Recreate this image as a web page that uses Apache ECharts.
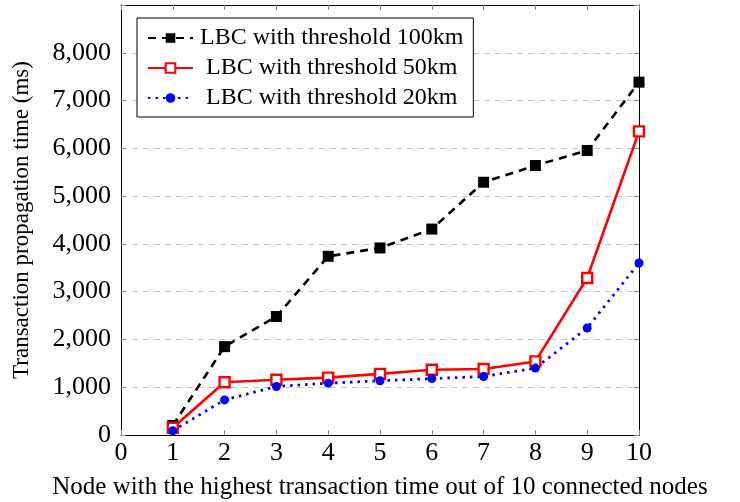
<!DOCTYPE html>
<html>
<head>
<meta charset="utf-8">
<script src="https://cdn.jsdelivr.net/npm/echarts@6/dist/echarts.min.js"></script>
<style>
  html, body { margin: 0; padding: 0; background: #fff; }
  #chart { width: 740px; height: 502px; }
</style>
</head>
<body>
<div id="chart"></div>
<script>
const nodes = [1, 2, 3, 4, 5, 6, 7, 8, 9, 10];
const seriesNames = ['LBC with threshold 100km', 'LBC with threshold 50km', 'LBC with threshold 20km'];
const thr100 = [200, 1850, 2480, 3740, 3915, 4310, 5290, 5640, 5955, 7385];
const thr50 = [150, 1105, 1155, 1200, 1280, 1365, 1380, 1540, 3285, 6355];
const thr20 = [90, 735, 1015, 1085, 1135, 1180, 1225, 1400, 2240, 3600];
const xTicks = [0, 1, 2, 3, 4, 5, 6, 7, 8, 9, 10];
const yTicks = [0, 1000, 2000, 3000, 4000, 5000, 6000, 7000, 8000];

const FONT = 'Liberation Serif';
function pairs(vals) { return nodes.map((n, i) => [n, vals[i]]); }
function fmtY(v) {
  if (yTicks.indexOf(v) < 0) return '';
  return String(v).replace(/\B(?=(\d{3})+(?!\d))/g, ',');
}
function fmtX(v) {
  return xTicks.indexOf(v) < 0 ? '' : String(v);
}

const chart = echarts.init(document.getElementById('chart'), null, { renderer: 'canvas' });
const tickStyle = { show: true, inside: true, length: 5, lineStyle: { color: '#888', width: 1 } };
const legendText = { fontFamily: FONT, fontSize: 24, color: '#000', lineHeight: 24 };
chart.setOption({
  animation: false,
  backgroundColor: '#fff',
  grid: { left: 121, right: 101, top: 5, bottom: 67, containLabel: false, outerBoundsMode: 'none' },
  legend: {
    orient: 'vertical',
    left: 137, top: 18,
    padding: [8, 10, 7, 10],
    borderColor: '#000', borderWidth: 1,
    backgroundColor: '#fff',
    itemWidth: 45, itemHeight: 12, itemGap: 6,
    textStyle: Object.assign({}, legendText, {
      rich: {
        a: Object.assign({}, legendText, { padding: [0, 0, 0, 2] }),
        b: Object.assign({}, legendText, { padding: [0, 0, 0, 8] })
      }
    }),
    formatter: function (name) {
      return name === seriesNames[0] ? '{a|' + name + '}' : '{b|' + name + '}';
    },
    data: seriesNames
  },
  xAxis: [{
    type: 'value', min: 0, max: 10, interval: 1,
    name: 'Node with the highest transaction time out of 10 connected nodes',
    nameLocation: 'middle', nameGap: 40,
    nameTextStyle: { fontFamily: FONT, fontSize: 25, color: '#000' },
    axisLine: { show: true, onZero: false, lineStyle: { color: '#000', width: 1 } },
    axisTick: tickStyle,
    axisLabel: { fontFamily: FONT, fontSize: 26, color: '#000', margin: 5, formatter: fmtX },
    splitLine: { show: false }
  }, {
    type: 'value', min: 0, max: 10, interval: 1, position: 'top',
    axisLine: { show: true, onZero: false, lineStyle: { color: '#000', width: 1 } },
    axisTick: tickStyle,
    axisLabel: { show: false },
    splitLine: { show: false }
  }],
  yAxis: [{
    type: 'value', min: 0, max: 9000, interval: 1000,
    name: 'Transaction propagation time (ms)',
    nameLocation: 'middle', nameGap: 88,
    nameTextStyle: { fontFamily: FONT, fontSize: 23, color: '#000' },
    axisLine: { show: true, onZero: false, lineStyle: { color: '#000', width: 1 } },
    axisTick: tickStyle,
    axisLabel: { fontFamily: FONT, fontSize: 26, color: '#000', margin: 10, formatter: fmtY },
    splitLine: { show: true, lineStyle: { color: '#c8c8c8', width: 1, type: [6, 5] } }
  }, {
    type: 'value', min: 0, max: 9000, interval: 1000, position: 'right',
    axisLine: { show: true, onZero: false, lineStyle: { color: '#000', width: 1 } },
    axisTick: tickStyle,
    axisLabel: { show: false },
    splitLine: { show: false }
  }],
  series: [{
    name: seriesNames[0], type: 'line', data: pairs(thr100),
    symbol: 'rect', symbolSize: 11,
    itemStyle: { color: '#000' },
    lineStyle: { color: '#000', width: 2.6, type: [8, 6] }
  }, {
    name: seriesNames[1], type: 'line', data: pairs(thr50),
    symbol: 'rect', symbolSize: 10,
    itemStyle: { color: '#fff', borderColor: '#ff0000', borderWidth: 2.4 },
    lineStyle: { color: '#ff0000', width: 2.6 }
  }, {
    name: seriesNames[2], type: 'line', data: pairs(thr20),
    symbol: 'circle', symbolSize: 9,
    itemStyle: { color: '#0000ff' },
    lineStyle: { color: '#0000ff', width: 2.8, type: [2.5, 5] }
  }]
});
</script>
</body>
</html>
